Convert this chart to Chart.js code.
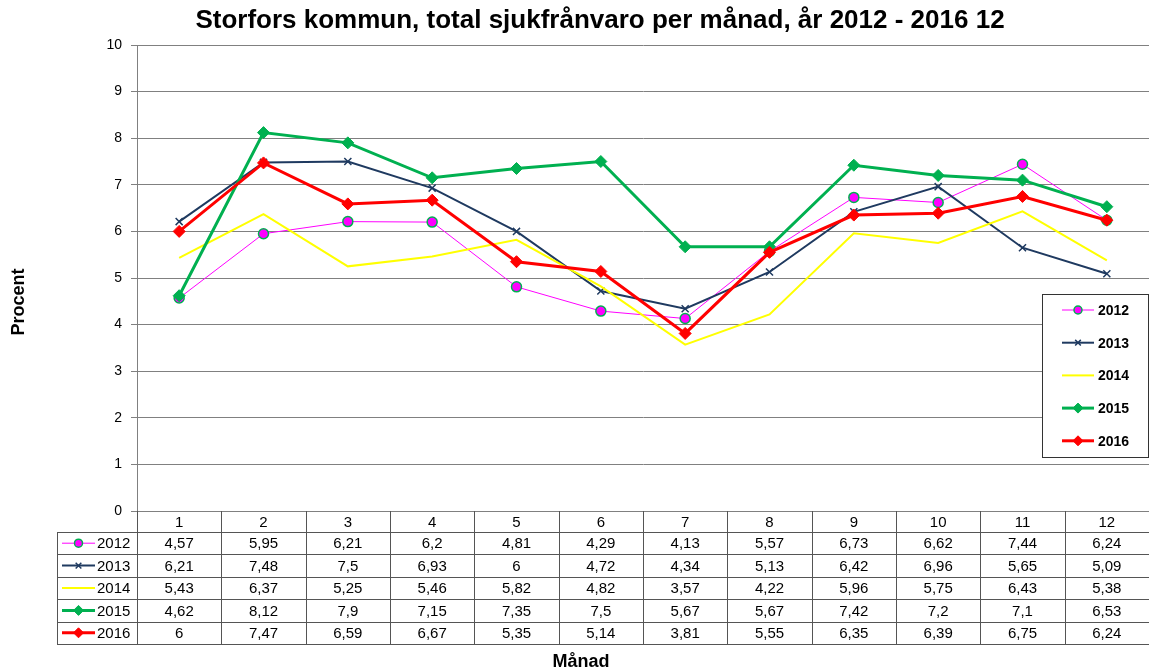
<!DOCTYPE html>
<html>
<head>
<meta charset="utf-8">
<script src="https://cdn.jsdelivr.net/npm/chart.js@4/dist/chart.umd.min.js"></script>
<style>
  body { margin: 0; background: #fff; }
  #wrap { width: 1149px; height: 672px; position: relative; }
</style>
</head>
<body>
<div id="wrap"><canvas id="chart"></canvas></div>
<script>
// Sjukfrånvaro per månad (procent)
const months = ['1', '2', '3', '4', '5', '6', '7', '8', '9', '10', '11', '12'];
const years = ['2012', '2013', '2014', '2015', '2016'];
const v2012 = [4.57, 5.95, 6.21, 6.2, 4.81, 4.29, 4.13, 5.57, 6.73, 6.62, 7.44, 6.24];
const v2013 = [6.21, 7.48, 7.5, 6.93, 6, 4.72, 4.34, 5.13, 6.42, 6.96, 5.65, 5.09];
const v2014 = [5.43, 6.37, 5.25, 5.46, 5.82, 4.82, 3.57, 4.22, 5.96, 5.75, 6.43, 5.38];
const v2015 = [4.62, 8.12, 7.9, 7.15, 7.35, 7.5, 5.67, 5.67, 7.42, 7.2, 7.1, 6.53];
const v2016 = [6, 7.47, 6.59, 6.67, 5.35, 5.14, 3.81, 5.55, 6.35, 6.39, 6.75, 6.24];
const yTicks = [0, 1, 2, 3, 4, 5, 6, 7, 8, 9, 10];

const titleText = 'Storfors kommun, total sjukfrånvaro per månad, år 2012 - 2016 12';
const FONT = 'Arial, "Liberation Sans", sans-serif';

// stil per serie
const styles = [
    { color: '#FF00FF', width: 1, point: 'circle', radius: 5, fill: '#FF00FF', border: '#00B050', bw: 1.5 },
    { color: '#1F3A60', width: 2, point: 'crossRot', radius: 5, fill: '#1F3A60', border: '#1F3A60', bw: 1.5 },
    { color: '#FFFF00', width: 2, point: false, radius: 0, fill: '#FFFF00', border: '#FFFF00', bw: 0 },
    { color: '#00B050', width: 3, point: 'rectRot', radius: 6, fill: '#00B050', border: '#00B050', bw: 1 },
    { color: '#FF0000', width: 3, point: 'rectRot', radius: 6, fill: '#FF0000', border: '#FF0000', bw: 1 }
];
const series = [v2012, v2013, v2014, v2015, v2016];

const datasets = series.map((data, i) => {
    const s = styles[i];
    return {
        label: years[i],
        data: data,
        borderColor: s.color,
        borderWidth: s.width,
        backgroundColor: s.fill,
        pointStyle: s.point,
        pointRadius: s.radius,
        pointHoverRadius: s.radius,
        pointBackgroundColor: s.fill,
        pointBorderColor: s.border,
        pointBorderWidth: s.bw,
        tension: 0,
        order: series.length - i
    };
});

function fmt(v) {
    return String(v).replace('.', ',');
}

function drawKey(ctx, i, x1, x2, y) {
    const s = styles[i];
    ctx.save();
    ctx.strokeStyle = s.color;
    ctx.lineWidth = s.width;
    ctx.beginPath();
    ctx.moveTo(x1, y);
    ctx.lineTo(x2, y);
    ctx.stroke();
    if (s.point) {
        ctx.fillStyle = s.fill;
        ctx.strokeStyle = s.border;
        ctx.lineWidth = s.bw;
        Chart.helpers.drawPoint(ctx, { pointStyle: s.point, radius: s.radius - 1, borderWidth: s.bw, rotation: 0 }, (x1 + x2) / 2, y);
    }
    ctx.restore();
}

// titel, axeltitlar, datatabell och förklaring
const extras = {
    id: 'extras',
    afterDraw(chart) {
        const ctx = chart.ctx;
        const area = chart.chartArea;
        const xs = chart.scales.x;
        const colW = (area.right - area.left) / months.length;
        ctx.save();

        ctx.fillStyle = '#000';
        ctx.textAlign = 'center';
        ctx.textBaseline = 'middle';
        ctx.font = 'bold 26px ' + FONT;
        ctx.fillText(titleText, 600, 21);

        ctx.font = 'bold 18px ' + FONT;
        ctx.fillText('Månad', 581, 662);
        ctx.save();
        ctx.translate(19, 302);
        ctx.rotate(-Math.PI / 2);
        ctx.fillText('Procent', 0, 0);
        ctx.restore();

        // tabell
        const top = area.bottom;
        const headH = 21;
        const rowH = 22.4;
        const labelLeft = 57;
        const bottom = top + headH + rowH * years.length;
        ctx.strokeStyle = '#555';
        ctx.lineWidth = 1;
        ctx.beginPath();
        for (let c = 0; c <= months.length; c++) {
            const x = Math.round(area.left + c * colW) + 0.5;
            ctx.moveTo(x, top);
            ctx.lineTo(x, bottom);
        }
        ctx.moveTo(labelLeft + 0.5, top + headH);
        ctx.lineTo(labelLeft + 0.5, bottom);
        for (let r = 0; r <= years.length; r++) {
            const y = Math.round(top + headH + r * rowH) + 0.5;
            ctx.moveTo(labelLeft, y);
            ctx.lineTo(area.right, y);
        }
        ctx.stroke();

        ctx.font = '15px ' + FONT;
        ctx.fillStyle = '#000';
        months.forEach((m, c) => {
            ctx.fillText(m, xs.getPixelForValue(c), top + headH / 2 + 1);
        });
        series.forEach((data, r) => {
            const cy = top + headH + r * rowH + rowH / 2 + 1;
            data.forEach((v, c) => {
                ctx.fillText(fmt(v), xs.getPixelForValue(c), cy);
            });
            drawKey(ctx, r, 62, 95, cy - 1);
            ctx.textAlign = 'left';
            ctx.fillText(years[r], 97, cy);
            ctx.textAlign = 'center';
        });

        // förklaring
        const lx = 1042, ly = 294, lw = 106, lh = 163;
        ctx.fillStyle = '#fff';
        ctx.fillRect(lx, ly, lw, lh);
        ctx.strokeStyle = '#333';
        ctx.strokeRect(lx + 0.5, ly + 0.5, lw, lh);
        ctx.font = 'bold 14px ' + FONT;
        years.forEach((yr, r) => {
            const cy = ly + 16 + r * 32.7;
            drawKey(ctx, r, 1062, 1094, cy);
            ctx.fillStyle = '#000';
            ctx.textAlign = 'left';
            ctx.fillText(yr, 1098, cy + 1);
        });
        ctx.restore();
    }
};

new Chart(document.getElementById('chart'), {
    type: 'line',
    data: { labels: months, datasets: datasets },
    plugins: [extras],
    options: {
        responsive: true,
        maintainAspectRatio: false,
        animation: false,
        layout: { autoPadding: false, padding: { top: 45, bottom: 161, left: 0, right: 0 } },
        plugins: {
            legend: { display: false },
            title: { display: false },
            tooltip: { enabled: false }
        },
        scales: {
            x: {
                type: 'category',
                display: false,
                offset: true
            },
            y: {
                min: 0,
                max: 10,
                afterFit(scale) { scale.width = 137; },
                afterBuildTicks(scale) { scale.ticks = yTicks.map(v => ({ value: v })); },
                grid: { color: '#808080', lineWidth: 1, tickLength: 6 },
                border: { color: '#808080' },
                ticks: {
                    color: '#000',
                    font: { family: FONT, size: 14 },
                    padding: 9
                }
            }
        }
    }
});
</script>
</body>
</html>
